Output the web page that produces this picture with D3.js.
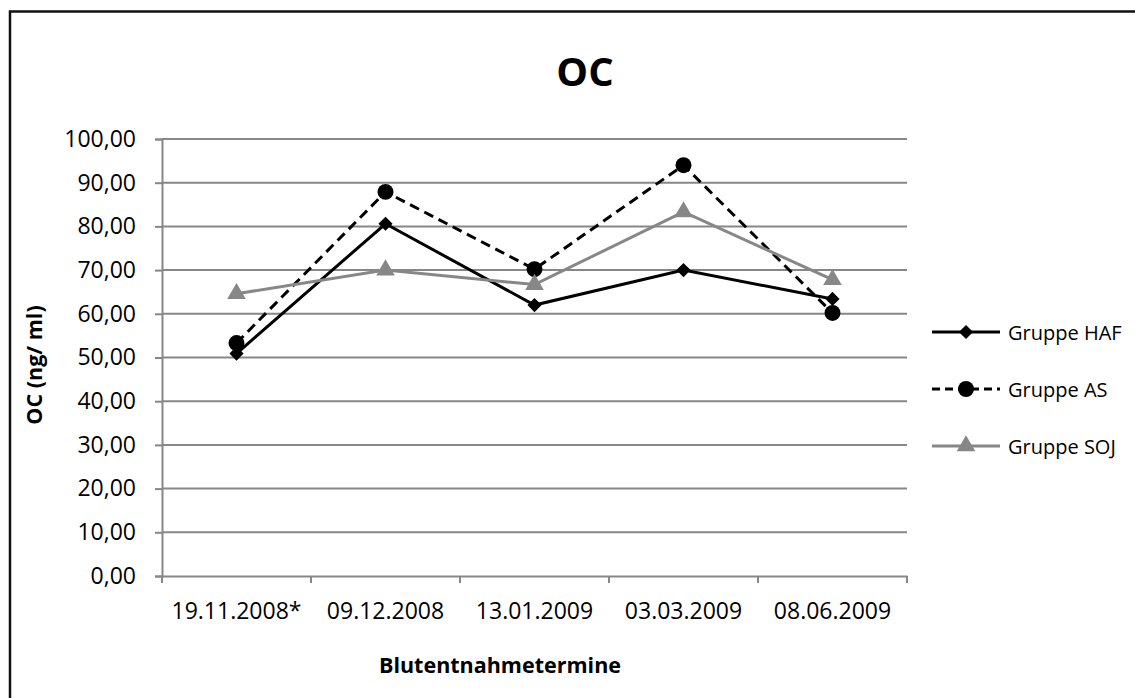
<!DOCTYPE html>
<html>
<head>
<meta charset="utf-8">
<script src="https://cdn.jsdelivr.net/npm/d3@7"></script>
<style>
  body { margin: 0; background: #fff; }
  text { font-family: "Open Sans", sans-serif; fill: #000; }
</style>
</head>
<body>
<div id="chart"></div>
<script>
// Data
var dates = ["19.11.2008*", "09.12.2008", "13.01.2009", "03.03.2009", "08.06.2009"];
var haf = [50.9, 80.6, 62.0, 70.0, 63.4];
var as = [53.3, 87.9, 70.2, 94.0, 60.2];
var soj = [64.6, 70.0, 66.7, 83.3, 67.8];
var yTicks = [0, 10, 20, 30, 40, 50, 60, 70, 80, 90, 100];

var seriesList = [
    { name: "Gruppe HAF", values: haf, color: "#000", dash: null, marker: d3.symbolSquare, size: 100, rot: 45 },
    { name: "Gruppe AS", values: as, color: "#000", dash: "10,6", marker: d3.symbolCircle, size: 200, rot: 0 },
    { name: "Gruppe SOJ", values: soj, color: "#878787", dash: null, marker: d3.symbolTriangle, size: 150, rot: 0 }
];

var svgWidth = 1135, svgHeight = 698;
var margin = { top: 139, left: 162, right: 228, bottom: 122 };
var width = svgWidth - margin.left - margin.right;
var height = svgHeight - margin.top - margin.bottom;

var svg = d3.select("#chart").append("svg").attr("width", svgWidth).attr("height", svgHeight);

// Outer frame (only left and top edges visible in the picture)
svg.append("path")
    .attr("d", "M10,698 V11.5 H1135")
    .attr("fill", "none").attr("stroke", "#111").attr("stroke-width", 2.5);

var g = svg.append("g").attr("transform", `translate(${margin.left},${margin.top})`);

var x = d3.scaleBand().domain(dates).range([0, width]);
var y = d3.scaleLinear().domain([0, 100]).range([height, 0]);

// Gridlines
g.selectAll(".grid").data(yTicks.slice(1)).enter().append("line")
    .attr("x1", 0).attr("x2", width)
    .attr("y1", d => y(d)).attr("y2", d => y(d))
    .attr("stroke", "#878787").attr("stroke-width", 2);

// Y axis
var yAxis = g.append("g")
    .call(d3.axisLeft(y).tickValues(yTicks).tickSize(7).tickPadding(19)
        .tickFormat(d => d3.format(".2f")(d).replace(".", ",")));
yAxis.select(".domain").attr("stroke", "#878787").attr("stroke-width", 2);
yAxis.selectAll(".tick line").attr("stroke", "#878787").attr("stroke-width", 2);
yAxis.selectAll(".tick text").style("font-size", "23px");

// X axis: ticks sit on the band boundaries
var xAxis = g.append("g").attr("transform", `translate(0,${height})`)
    .call(d3.axisBottom(x).tickSize(0).tickPadding(27));
xAxis.select(".domain").attr("stroke", "#878787").attr("stroke-width", 2);
xAxis.selectAll(".tick text").style("font-size", "23px");
xAxis.selectAll(".bound").data(d3.range(dates.length + 1)).enter().append("line")
    .attr("x1", i => i * x.step()).attr("x2", i => i * x.step())
    .attr("y1", 0).attr("y2", 7)
    .attr("stroke", "#878787").attr("stroke-width", 2);

// Lines and markers
var line = d3.line()
    .x((d, i) => x(dates[i]) + x.bandwidth() / 2)
    .y(d => y(d));

seriesList.forEach(function (s) {
    g.append("path")
        .attr("d", line(s.values))
        .attr("fill", "none")
        .attr("stroke", s.color)
        .attr("stroke-width", 3)
        .attr("stroke-dasharray", s.dash);
    g.selectAll(null).data(s.values).enter().append("path")
        .attr("d", d3.symbol().type(s.marker).size(s.size))
        .attr("transform", (d, i) => `translate(${x(dates[i]) + x.bandwidth() / 2},${y(d)}) rotate(${s.rot})`)
        .attr("fill", s.color);
});

// Title
svg.append("text")
    .attr("x", 585).attr("y", 86)
    .attr("text-anchor", "middle")
    .style("font-size", "40px").style("font-weight", "bold")
    .text("OC");

// Axis titles
svg.append("text")
    .attr("x", 500).attr("y", 673)
    .attr("text-anchor", "middle")
    .style("font-size", "21.5px").style("font-weight", "bold")
    .text("Blutentnahmetermine");

svg.append("text")
    .attr("transform", "translate(42,365) rotate(-90)")
    .attr("text-anchor", "middle")
    .style("font-size", "21.5px").style("font-weight", "bold")
    .text("OC (ng/ ml)");

// Legend
var legend = svg.append("g").attr("transform", "translate(932,0)");
var legendY = [332, 389, 446];
seriesList.forEach(function (s, i) {
    var row = legend.append("g").attr("transform", `translate(0,${legendY[i]})`);
    row.append("line")
        .attr("x1", 0).attr("x2", 68)
        .attr("stroke", s.color).attr("stroke-width", 3)
        .attr("stroke-dasharray", s.dash ? "8,5" : null);
    row.append("path")
        .attr("d", d3.symbol().type(s.marker).size(s.size))
        .attr("transform", `translate(34,0) rotate(${s.rot})`)
        .attr("fill", s.color);
    row.append("text")
        .attr("x", 76).attr("y", 8)
        .style("font-size", "20px")
        .text(s.name);
});
</script>
</body>
</html>
